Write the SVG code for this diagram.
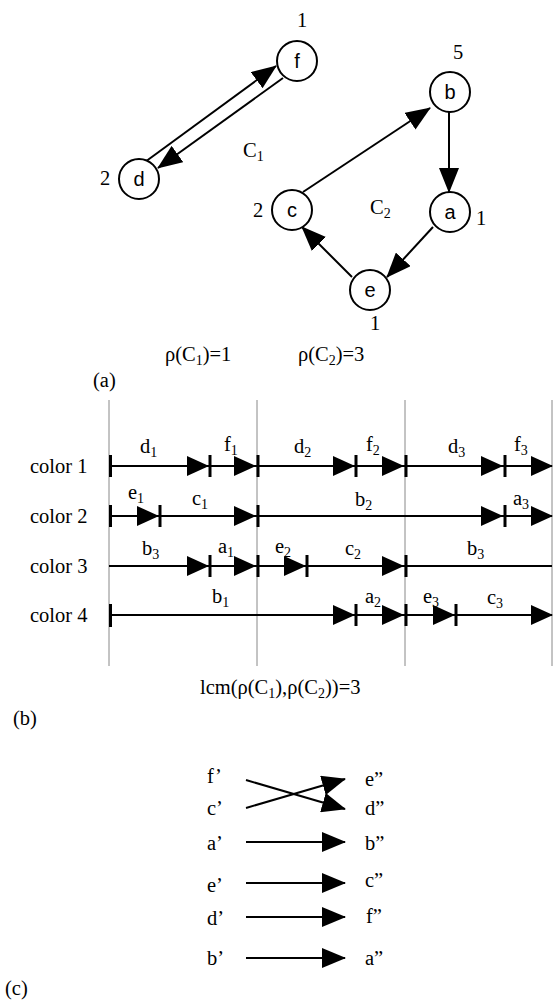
<svg xmlns="http://www.w3.org/2000/svg" width="553" height="1000" viewBox="0 0 553 1000">
<style>
.t{font-family:"Liberation Serif","Times New Roman",serif;font-size:20.5px;fill:#000}
.n{font-family:"Liberation Sans",Arial,sans-serif;font-size:20px;text-anchor:middle;fill:#000}
.node circle{fill:#fff;stroke:#000;stroke-width:2}
.e{stroke:#000;stroke-width:2;fill:none;marker-end:url(#ah)}
.ec{stroke:#000;stroke-width:2;fill:none;marker-end:url(#ah2)}
.grid{stroke:#888;stroke-width:1}
.row{stroke:#000;stroke-width:2}
.tick{stroke:#000;stroke-width:3}
</style>
<defs>
<marker id="ah" markerUnits="userSpaceOnUse" markerWidth="25" markerHeight="20" refX="24" refY="10" orient="auto" viewBox="0 0 25 20"><path d="M0,0 L25,10 L0,20 Z" fill="#000"/></marker>
<marker id="ah2" markerUnits="userSpaceOnUse" markerWidth="24" markerHeight="20" refX="23" refY="10" orient="auto" viewBox="0 0 24 20"><path d="M0,0 L24,10 L0,20 Z" fill="#000"/></marker>
<path id="tr" d="M-22,-10 L0,0 L-22,10 Z" fill="#000"/>
</defs>
<rect width="553" height="1000" fill="#fff"/>

<!-- Part (a) connectors -->
<g id="connectors-a">
<line class="e" x1="145" y1="162" x2="276" y2="66"/>
<line class="e" x1="283" y1="78" x2="158" y2="168"/>
<line class="e" x1="303" y1="192" x2="430" y2="108"/>
<line class="e" x1="449" y1="112" x2="449" y2="192"/>
<line class="e" x1="433" y1="227" x2="387" y2="277"/>
<line class="e" x1="352" y1="277" x2="302" y2="227"/>
</g>

<g id="node-f" class="node"><circle cx="297" cy="61" r="20"/><text class="n" x="297" y="68">f</text><text class="t" x="302" y="27" text-anchor="middle">1</text></g>
<g id="node-d" class="node"><circle cx="139" cy="179" r="20"/><text class="n" x="139" y="186">d</text><text class="t" x="105" y="185" text-anchor="middle">2</text></g>
<g id="node-b" class="node"><circle cx="450" cy="92" r="20"/><text class="n" x="450" y="99">b</text><text class="t" x="458" y="59" text-anchor="middle">5</text></g>
<g id="node-a" class="node"><circle cx="450" cy="212" r="20"/><text class="n" x="450" y="219">a</text><text class="t" x="481" y="225" text-anchor="middle">1</text></g>
<g id="node-c" class="node"><circle cx="292" cy="210" r="20"/><text class="n" x="292" y="217">c</text><text class="t" x="258" y="217" text-anchor="middle">2</text></g>
<g id="node-e" class="node"><circle cx="370" cy="290" r="20"/><text class="n" x="370" y="297">e</text><text class="t" x="375" y="330" text-anchor="middle">1</text></g>

<g id="labels-a">
<text class="t" x="243" y="157">C<tspan font-size="14" dy="4">1</tspan></text>
<text class="t" x="370" y="214">C<tspan font-size="14" dy="4">2</tspan></text>
<text class="t" x="165" y="361">ρ(C<tspan font-size="14" dy="4">1</tspan><tspan dy="-4">)=1</tspan></text>
<text class="t" x="298" y="361">ρ(C<tspan font-size="14" dy="4">2</tspan><tspan dy="-4">)=3</tspan></text>
<text class="t" x="93" y="387">(a)</text>
</g>

<!-- Part (b) timeline -->
<g id="timeline">
<g id="grid">
<line class="grid" x1="109" y1="400" x2="109" y2="666"/>
<line class="grid" x1="257" y1="400" x2="257" y2="666"/>
<line class="grid" x1="405" y1="400" x2="405" y2="666"/>
<line class="grid" x1="552" y1="400" x2="552" y2="666"/>
</g>
<g id="row-labels">
<text class="t" x="30" y="473">color 1</text>
<text class="t" x="30" y="523">color 2</text>
<text class="t" x="30" y="573">color 3</text>
<text class="t" x="30" y="622">color 4</text>
</g>
<g id="row1">
<line class="row" x1="110" y1="466" x2="552" y2="466"/>
<line class="tick" x1="110.5" y1="455" x2="110.5" y2="477"/>
<use href="#tr" x="209" y="466"/><line class="tick" x1="210" y1="455" x2="210" y2="477"/>
<use href="#tr" x="256" y="466"/><line class="tick" x1="258" y1="455" x2="258" y2="477"/>
<use href="#tr" x="355" y="466"/><line class="tick" x1="356" y1="455" x2="356" y2="477"/>
<use href="#tr" x="404" y="466"/><line class="tick" x1="406" y1="455" x2="406" y2="477"/>
<use href="#tr" x="503" y="466"/><line class="tick" x1="505" y1="455" x2="505" y2="477"/>
<use href="#tr" x="553" y="466"/>
<text class="t" x="140" y="453">d<tspan font-size="14" dy="4">1</tspan></text>
<text class="t" x="224" y="451">f<tspan font-size="14" dy="4">1</tspan></text>
<text class="t" x="294" y="453">d<tspan font-size="14" dy="4">2</tspan></text>
<text class="t" x="366" y="451">f<tspan font-size="14" dy="4">2</tspan></text>
<text class="t" x="448" y="453">d<tspan font-size="14" dy="4">3</tspan></text>
<text class="t" x="514" y="451">f<tspan font-size="14" dy="4">3</tspan></text>
</g>
<g id="row2">
<line class="row" x1="110" y1="516" x2="552" y2="516"/>
<line class="tick" x1="110.5" y1="505" x2="110.5" y2="527"/>
<use href="#tr" x="159" y="516"/><line class="tick" x1="160" y1="505" x2="160" y2="527"/>
<use href="#tr" x="256" y="516"/><line class="tick" x1="258" y1="505" x2="258" y2="527"/>
<use href="#tr" x="503" y="516"/><line class="tick" x1="505" y1="505" x2="505" y2="527"/>
<use href="#tr" x="553" y="516"/>
<text class="t" x="128" y="499">e<tspan font-size="14" dy="4">1</tspan></text>
<text class="t" x="192" y="505">c<tspan font-size="14" dy="4">1</tspan></text>
<text class="t" x="355" y="506">b<tspan font-size="14" dy="4">2</tspan></text>
<text class="t" x="513" y="505">a<tspan font-size="14" dy="4">3</tspan></text>
</g>
<g id="row3">
<line class="row" x1="109" y1="566" x2="552" y2="566"/>
<use href="#tr" x="209" y="566"/><line class="tick" x1="210" y1="555" x2="210" y2="577"/>
<use href="#tr" x="256" y="566"/><line class="tick" x1="258" y1="555" x2="258" y2="577"/>
<use href="#tr" x="306" y="566"/><line class="tick" x1="307" y1="555" x2="307" y2="577"/>
<use href="#tr" x="404" y="566"/><line class="tick" x1="406" y1="555" x2="406" y2="577"/>
<text class="t" x="142" y="555">b<tspan font-size="14" dy="4">3</tspan></text>
<text class="t" x="218" y="553">a<tspan font-size="14" dy="4">1</tspan></text>
<text class="t" x="275" y="553">e<tspan font-size="14" dy="4">2</tspan></text>
<text class="t" x="345" y="555">c<tspan font-size="14" dy="4">2</tspan></text>
<text class="t" x="467" y="555">b<tspan font-size="14" dy="4">3</tspan></text>
</g>
<g id="row4">
<line class="row" x1="110" y1="615" x2="552" y2="615"/>
<line class="tick" x1="110.5" y1="604" x2="110.5" y2="627"/>
<use href="#tr" x="355" y="615"/><line class="tick" x1="356" y1="604" x2="356" y2="626"/>
<use href="#tr" x="404" y="615"/><line class="tick" x1="406" y1="604" x2="406" y2="626"/>
<use href="#tr" x="455" y="615"/><line class="tick" x1="456" y1="604" x2="456" y2="626"/>
<use href="#tr" x="553" y="615"/>
<text class="t" x="212" y="603">b<tspan font-size="14" dy="4">1</tspan></text>
<text class="t" x="365" y="603">a<tspan font-size="14" dy="4">2</tspan></text>
<text class="t" x="423" y="603">e<tspan font-size="14" dy="4">3</tspan></text>
<text class="t" x="487" y="604">c<tspan font-size="14" dy="4">3</tspan></text>
</g>
<text class="t" x="200" y="694">lcm(ρ(C<tspan font-size="14" dy="4">1</tspan><tspan dy="-4">),ρ(C</tspan><tspan font-size="14" dy="4">2</tspan><tspan dy="-4">))=3</tspan></text>
<text class="t" x="13" y="725">(b)</text>
</g>

<!-- Part (c) -->
<g id="connectors-c">
<line class="ec" x1="246" y1="780" x2="345" y2="809"/>
<line class="ec" x1="246" y1="808" x2="345" y2="779"/>
<line class="ec" x1="246" y1="842" x2="345" y2="842"/>
<line class="ec" x1="246" y1="883" x2="345" y2="883"/>
<line class="ec" x1="246" y1="917" x2="345" y2="917"/>
<line class="ec" x1="246" y1="958" x2="345" y2="958"/>
</g>
<g id="labels-c-left">
<text class="t" x="207" y="783">f’</text>
<text class="t" x="207" y="815">c’</text>
<text class="t" x="207" y="850">a’</text>
<text class="t" x="207" y="892">e’</text>
<text class="t" x="207" y="925">d’</text>
<text class="t" x="207" y="965">b’</text>
</g>
<g id="labels-c-right">
<text class="t" x="365" y="786">e”</text>
<text class="t" x="365" y="815">d”</text>
<text class="t" x="365" y="850">b”</text>
<text class="t" x="365" y="887">c”</text>
<text class="t" x="366" y="923">f”</text>
<text class="t" x="365" y="965">a”</text>
</g>
<text class="t" x="5" y="995">(c)</text>
</svg>
